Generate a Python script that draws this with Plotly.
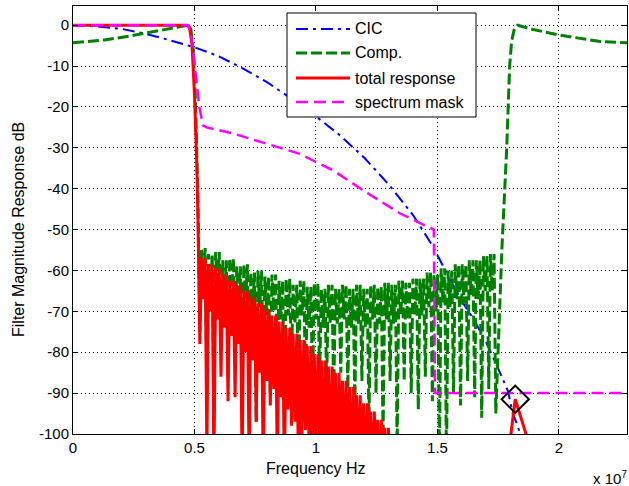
import plotly.graph_objects as go

# ---------------- data (frequency in units of 1e7 Hz, magnitude in dB) ----------------
cic_f = [0, 0.1, 0.2, 0.3, 0.4, 0.5, 0.6, 0.7, 0.8, 0.9, 1.0, 1.1, 1.2, 1.3, 1.4, 1.48,
         1.55, 1.6, 1.65, 1.7, 1.75, 1.79, 1.81, 1.83, 1.86]
cic_db = [0, -0.3, -0.9, -2.1, -3.7, -5.4, -7.6, -10.6, -14.0, -18.0, -22.3, -27.0, -32.5,
          -39.0, -46.5, -54.0, -62.0, -67.5, -72.0, -77.5, -84.0, -89.5, -95.0, -98.0, -104.0]

# compensation filter: passband, stopband lobes, image passband
comp_pass_f = [0, 0.05, 0.13, 0.23, 0.33, 0.41, 0.45, 0.475, 0.485, 0.495, 0.505, 0.515]
comp_pass_db = [-4.3, -4.1, -3.6, -2.7, -1.6, -0.6, -0.1, 0, -1, -6, -20, -45]

# stopband lobe structure: deep nulls, two lobe tops (a, b) and a shallow dip between them
null_f = [0.522, 0.551, 0.580, 0.609, 0.638, 0.667, 0.696, 0.725, 0.754, 0.783, 0.812,
          0.841, 0.870, 0.899, 0.928, 0.957, 0.986, 1.015, 1.044, 1.073, 1.102, 1.131,
          1.160, 1.189, 1.218, 1.247, 1.276, 1.305, 1.334, 1.363, 1.392, 1.421, 1.450,
          1.479, 1.508, 1.537, 1.566, 1.595, 1.624, 1.653, 1.682, 1.711, 1.740]
top_a_f = [0.529, 0.558, 0.587, 0.616, 0.645, 0.674, 0.703, 0.732, 0.761, 0.790, 0.819,
           0.848, 0.877, 0.906, 0.935, 0.964, 0.993, 1.022, 1.051, 1.080, 1.109, 1.138,
           1.167, 1.196, 1.225, 1.254, 1.283, 1.312, 1.341, 1.370, 1.399, 1.428, 1.457,
           1.486, 1.515, 1.544, 1.573, 1.602, 1.631, 1.660, 1.689, 1.718]
dip_f = [0.5365, 0.5655, 0.5945, 0.6235, 0.6525, 0.6815, 0.7105, 0.7395, 0.7685, 0.7975,
         0.8265, 0.8555, 0.8845, 0.9135, 0.9425, 0.9715, 1.0005, 1.0295, 1.0585, 1.0875,
         1.1165, 1.1455, 1.1745, 1.2035, 1.2325, 1.2615, 1.2905, 1.3195, 1.3485, 1.3775,
         1.4065, 1.4355, 1.4645, 1.4935, 1.5225, 1.5515, 1.5805, 1.6095, 1.6385, 1.6675,
         1.6965, 1.7255]
top_b_f = [0.544, 0.573, 0.602, 0.631, 0.660, 0.689, 0.718, 0.747, 0.776, 0.805, 0.834,
           0.863, 0.892, 0.921, 0.950, 0.979, 1.008, 1.037, 1.066, 1.095, 1.124, 1.153,
           1.182, 1.211, 1.240, 1.269, 1.298, 1.327, 1.356, 1.385, 1.414, 1.443, 1.472,
           1.501, 1.530, 1.559, 1.588, 1.617, 1.646, 1.675, 1.704, 1.733]

comp_null_db = [-75, -88, -92, -80, -86, -78, -95, -84, -97, -82, -90, -86, -99, -84, -92,
                -90, -89, -86, -88, -91, -85, -89, -93, -87, -98, -90, -101, -87, -104, -87,
                -90, -94, -86, -92, -106, -108, -90, -93, -87, -91, -96, -89, -95]
comp_top_db = [-54.5, -56, -55.5, -57.5, -57, -59, -58.5, -60.5, -60, -61.5, -61, -62.5,
               -62, -63.5, -62.5, -64, -63, -64.5, -63.5, -64.5, -63.5, -64.5, -63.5, -64.5,
               -63.5, -64, -63, -63.5, -62.5, -63, -62, -62, -60.5, -61, -59.5, -60, -58.5,
               -58.5, -57.5, -57.5, -56.5, -56]
comp_dip_db = [-63, -66, -64, -67, -66, -69, -67, -70, -69, -71, -70, -72, -71, -73, -71,
               -74, -72, -74, -73, -73, -72, -74, -73, -74, -72, -73, -72, -73, -71, -72,
               -71, -71, -69, -70, -68, -69, -67, -68, -66, -67, -65, -65]

comp_image_f = [1.765, 1.785, 1.797, 1.805, 1.815, 1.83, 1.89, 2.0, 2.1, 2.17, 2.28]
comp_image_db = [-55, -30, -10, -4, -1.2, 0, -1.0, -2.4, -3.3, -4.0, -4.3]

# total response
total_pass_f = [0, 0.47, 0.48, 0.49, 0.50, 0.51, 0.515]
total_pass_db = [0, 0, -0.5, -5, -17, -35, -50]
total_null_db = [-78, -105, -110, -86, -92, -91, -110, -110, -97, -110, -93, -110, -110,
                 -98, -110, -99, -110, -110, -110, -110, -110, -110, -110, -110, -110, -110,
                 -110, -110, -115]
total_top_db = [-57, -58.5, -59.5, -61, -62.5, -63.5, -65, -66.5, -68, -69.5, -71, -72.5,
                -74, -75.5, -77, -78.5, -80.5, -82, -83.5, -85, -87, -88.5, -90.5, -92.5,
                -94.5, -96.5, -98.5, -100.5]
total_dip_db = [-67, -70, -72, -74, -76, -78, -80, -82, -85, -87, -89, -91, -94, -97, -100,
                -103, -106, -108, -110, -110, -110, -110, -110, -112, -112, -112, -115, -115]
total_image_f = [1.79, 1.82, 1.88]
total_image_db = [-106, -91.5, -103]

# spectrum mask
mask_f = [0, 0.475, 0.49, 0.505, 0.52, 0.535, 0.55, 0.66, 0.8, 0.93, 1.07, 1.21, 1.345,
          1.485, 1.49, 2.28]
mask_db = [0, 0, -4, -12, -20, -24.5, -25, -26.5, -29, -31.4, -35.5, -41, -46, -50, -90, -90]

marker_f = [1.82]
marker_db = [-91.5]

x_ticks = [0, 0.5, 1, 1.5, 2]
x_ticktext = ["0", "0.5", "1", "1.5", "2"]
y_ticks = [0, -10, -20, -30, -40, -50, -60, -70, -80, -90, -100]
y_ticktext = [str(v) for v in y_ticks]

legend_names = ["CIC", "Comp.", "total response", "spectrum mask"]


def lobes(n, null_db, top_db, dip_db):
    f, d = [], []
    for i in range(n):
        f += [null_f[i], top_a_f[i], dip_f[i], top_b_f[i]]
        d += [null_db[i], top_db[i], dip_db[i], top_db[i]]
    f.append(null_f[n])
    d.append(null_db[n])
    return f, d


cs_f, cs_d = lobes(len(comp_top_db), comp_null_db, comp_top_db, comp_dip_db)
comp_f = comp_pass_f + cs_f + comp_image_f
comp_db = comp_pass_db + cs_d + comp_image_db

ts_f, ts_d = lobes(len(total_top_db), total_null_db, total_top_db, total_dip_db)
total_f = total_pass_f + ts_f + total_image_f
total_db = total_pass_db + ts_d + total_image_db

# ---------------- styling ----------------
W, H = 629, 486
ML, MR, MT, MB = 73, 2, 6, 52
PW, PH = W - ML - MR, H - MT - MB
FONT = "Liberation Sans, Arial, sans-serif"

styles = [
    dict(color="#0000ff", width=2, dash="12px,5px,3px,5px"),
    dict(color="#008000", width=3, dash="11px,4px"),
    dict(color="#ff0000", width=3, dash="solid"),
    dict(color="#ff00ff", width=2.5, dash="12px,6px"),
]


def px(x):
    return (x - ML) / PW


def py(y):
    return (H - MB - y) / PH


fig = go.Figure()
series = [(cic_f, cic_db), (comp_f, comp_db), (total_f, total_db), (mask_f, mask_db)]
for (xs, ys), st, nm in zip(series, styles, legend_names):
    fig.add_trace(go.Scatter(x=xs, y=ys, mode="lines", name=nm, line=st, hoverinfo="skip"))

fig.add_trace(go.Scatter(x=marker_f, y=marker_db, mode="markers", showlegend=False,
                         marker=dict(symbol="diamond-open", size=21, color="black",
                                     line=dict(width=2, color="black"))))

axis_common = dict(showgrid=True, gridcolor="#000000", griddash="1px,3px", gridwidth=1,
                   ticks="inside", ticklen=5, tickcolor="black", showline=True,
                   linecolor="black", linewidth=1, mirror="ticks", zeroline=False,
                   tickfont=dict(size=15, color="black", family=FONT))

fig.update_layout(
    width=W, height=H,
    margin=dict(l=ML, r=MR, t=MT, b=MB, pad=0),
    paper_bgcolor="white", plot_bgcolor="white",
    showlegend=False,
    font=dict(family=FONT, size=15, color="black"),
    xaxis=dict(range=[0, 2.28], tickvals=x_ticks, ticktext=x_ticktext, **axis_common),
    yaxis=dict(range=[-100, 4.7], tickvals=y_ticks, ticktext=y_ticktext, **axis_common),
)

# manual MATLAB-style legend
shapes = [dict(type="rect", xref="paper", yref="paper", x0=px(287), x1=px(476),
               y0=py(117), y1=py(13), line=dict(color="black", width=1),
               fillcolor="white", layer="above")]
annots = []
leg_y = [29, 53, 78, 102]
for st, nm, yy in zip(styles, legend_names, leg_y):
    shapes.append(dict(type="line", xref="paper", yref="paper", x0=px(296), x1=px(350),
                       y0=py(yy), y1=py(yy), layer="above",
                       line=dict(color=st["color"], width=st["width"], dash=st["dash"])))
    annots.append(dict(xref="paper", yref="paper", x=px(353), y=py(yy), text=nm,
                       showarrow=False, xanchor="left", yanchor="middle",
                       font=dict(size=16, color="black", family=FONT)))

annots.append(dict(xref="paper", yref="paper", x=px(316), y=py(468), text="Frequency Hz",
                   showarrow=False, xanchor="center", yanchor="middle",
                   font=dict(size=16, color="black", family=FONT)))
annots.append(dict(xref="paper", yref="paper", x=px(18), y=py(230),
                   text="Filter Magnitude Response dB", textangle=-90,
                   showarrow=False, xanchor="center", yanchor="middle",
                   font=dict(size=16, color="black", family=FONT)))
annots.append(dict(xref="paper", yref="paper", x=px(629), y=py(477),
                   text="x 10<sup>7</sup>", showarrow=False, xanchor="right",
                   yanchor="middle", font=dict(size=15, color="black", family=FONT)))

fig.update_layout(shapes=shapes, annotations=annots)
fig.write_html("out.html")
